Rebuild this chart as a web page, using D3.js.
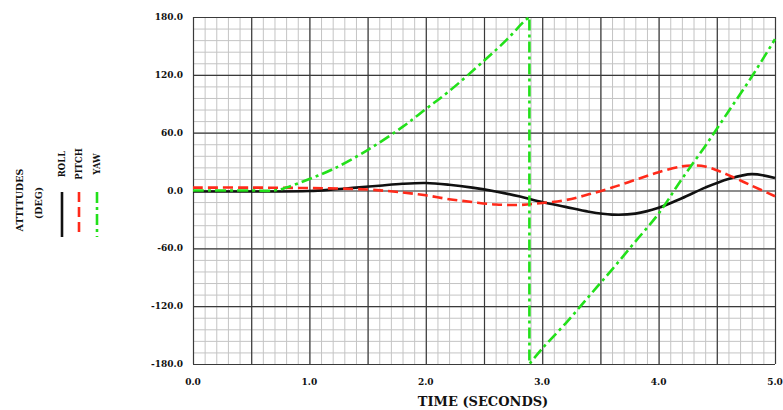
<!doctype html>
<html lang="en">
	<head>
		<meta charset="UTF-8" />
		<title>Attitudes</title>
		<script src="https://d3js.org/d3.v7.min.js"></script>
		<style>
			body {
				margin: 0;
				background: #fff;
			}
			text {
				font-family: 'DejaVu Serif', serif;
				font-weight: bold;
				fill: #111;
			}
			.minor line {
				stroke: #c4c4c4;
				stroke-width: 1px;
			}
			.major line {
				stroke: #3a3a3a;
				stroke-width: 1.2px;
			}
			.domain {
				display: none;
			}
		</style>
	</head>
	<body>
		<svg width="783" height="410"></svg>
		<script>
			// time in seconds, values in degrees
			const rollT = [0, 0.5, 1.0, 1.2, 1.4, 1.6, 1.8, 2.0, 2.2, 2.4, 2.6, 2.8, 3.0, 3.2, 3.4, 3.6, 3.8, 4.0, 4.2, 4.4, 4.6, 4.8, 5.0]
			const rollV = [-1, -1, -0.5, 1, 3, 5, 7, 7.8, 6, 3, -1, -6, -12, -17, -22, -25, -24, -18, -8, 3, 12, 17, 13]

			const pitchT = [0, 0.5, 1.0, 1.5, 1.8, 2.0, 2.2, 2.4, 2.6, 2.8, 3.0, 3.2, 3.4, 3.6, 3.8, 4.0, 4.2, 4.3, 4.4, 4.5, 4.6, 4.8, 5.0]
			const pitchV = [3, 3, 2.5, 1, -2, -5, -9, -12, -14.5, -15, -13, -10, -4, 3, 11, 19, 25, 26, 25, 21, 16, 5, -6]

			// yaw wraps from +180 to -180 at about 2.89 s
			const yawT = [0, 0.5, 0.7, 0.8, 1.0, 1.2, 1.5, 1.8, 2.0, 2.2, 2.5, 2.7, 2.84, 2.89, 2.89, 3.0, 3.2, 3.4, 3.6, 3.8, 4.0, 4.2, 4.4, 4.6, 4.8, 5.0]
			const yawV = [0, 0, 0, 3, 12, 22, 42, 66, 84.5, 103, 134.6, 157, 175, 180, -180, -164, -138, -110, -82, -53, -24, 12, 46, 82, 118, 157]

			const xTickLabels = ['0.0', '1.0', '2.0', '3.0', '4.0', '5.0']
			const yTickLabels = ['180.0', '120.0', '60.0', '0.0', '-60.0', '-120.0', '-180.0']

			const series = [
				{ name: 'ROLL', t: rollT, v: rollV, color: '#111', dash: null },
				{ name: 'PITCH', t: pitchT, v: pitchV, color: '#ff2a1a', dash: '10,5' },
				{ name: 'YAW', t: yawT, v: yawV, color: '#22e01a', dash: '11,4,3,4' },
			]

			const svg = d3.select('svg')
			const plotL = 193,
				plotR = 775,
				plotT = 17,
				plotB = 364

			const x = d3.scaleLinear().domain([0, 5]).range([plotL, plotR])
			const y = d3.scaleLinear().domain([-180, 180]).range([plotB, plotT])

			// grid: minor every 0.1 s / 12 deg, major every 0.5 s / 60 deg
			svg.append('g')
				.attr('class', 'minor')
				.attr('transform', `translate(0,${plotB})`)
				.call(d3.axisBottom(x).tickValues(d3.range(0, 5.01, 0.1)).tickSize(-(plotB - plotT)).tickFormat(''))
			svg.append('g')
				.attr('class', 'minor')
				.attr('transform', `translate(${plotL},0)`)
				.call(d3.axisLeft(y).tickValues(d3.range(-180, 181, 12)).tickSize(-(plotR - plotL)).tickFormat(''))
			svg.append('g')
				.attr('class', 'major')
				.attr('transform', `translate(0,${plotB})`)
				.call(d3.axisBottom(x).tickValues(d3.range(0, 5.01, 0.5)).tickSize(-(plotB - plotT)).tickFormat(''))
			svg.append('g')
				.attr('class', 'major')
				.attr('transform', `translate(${plotL},0)`)
				.call(d3.axisLeft(y).tickValues(d3.range(-180, 181, 60)).tickSize(-(plotR - plotL)).tickFormat(''))

			// tick labels
			svg.append('g')
				.selectAll('text')
				.data(xTickLabels)
				.join('text')
				.attr('x', (d) => x(+d))
				.attr('y', 385)
				.attr('text-anchor', 'middle')
				.attr('font-size', 9)
				.text((d) => d)
			svg.append('g')
				.selectAll('text')
				.data(yTickLabels)
				.join('text')
				.attr('x', 183)
				.attr('y', (d) => y(+d) + 3)
				.attr('text-anchor', 'end')
				.attr('font-size', 9)
				.text((d) => d)

			svg.append('text')
				.attr('x', 483)
				.attr('y', 406)
				.attr('text-anchor', 'middle')
				.attr('font-size', 13)
				.text('TIME (SECONDS)')

			// curves: smooth each piece, join the wrap with a straight drop
			const line = d3
				.line()
				.x((d) => x(d[0]))
				.y((d) => y(d[1]))
				.curve(d3.curveCatmullRom.alpha(0.5))

			function curvePath(s) {
				const pts = d3.zip(s.t, s.v)
				const pieces = [[pts[0]]]
				for (let i = 1; i < pts.length; i++) {
					if (Math.abs(pts[i][1] - pts[i - 1][1]) > 180) pieces.push([])
					pieces[pieces.length - 1].push(pts[i])
				}
				return pieces.map((p, i) => (i === 0 ? line(p) : line(p).replace(/^M/, 'L'))).join('')
			}

			svg.append('g')
				.selectAll('path')
				.data(series)
				.join('path')
				.attr('d', curvePath)
				.attr('fill', 'none')
				.attr('stroke', (s) => s.color)
				.attr('stroke-width', 2.6)
				.attr('stroke-dasharray', (s) => s.dash)

			// legend
			const legendX = [62, 79, 97]
			svg.append('text')
				.attr('transform', 'translate(23,200) rotate(-90)')
				.attr('text-anchor', 'middle')
				.attr('font-size', 9.5)
				.text('ATTITUDES')
			svg.append('text')
				.attr('transform', 'translate(42,203) rotate(-90)')
				.attr('text-anchor', 'middle')
				.attr('font-size', 9.5)
				.text('(DEG)')

			const leg = svg
				.append('g')
				.selectAll('g')
				.data(series)
				.join('g')
				.attr('transform', (d, i) => `translate(${legendX[i]},0)`)
			leg.append('text')
				.attr('transform', 'translate(3,164) rotate(-90)')
				.attr('text-anchor', 'middle')
				.attr('font-size', 8.5)
				.text((d) => d.name)
			leg.append('line')
				.attr('y1', 192)
				.attr('y2', 237)
				.attr('stroke', (d) => d.color)
				.attr('stroke-width', 2.6)
				.attr('stroke-dasharray', (d) => d.dash)
		</script>
	</body>
</html>
